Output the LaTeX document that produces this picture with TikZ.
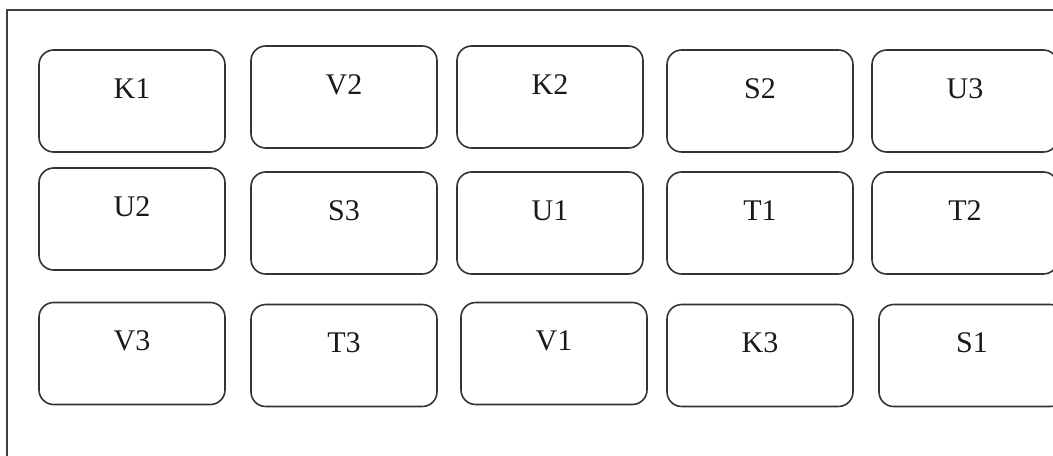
\documentclass[tikz,border=0pt]{standalone}
\usepackage{fontspec}
\setmainfont{Liberation Serif}
\tikzset{
  cell/.style={draw=black!80, line width=1.2pt, rounded corners=11pt, fill=white,
    minimum width=139.5pt, inner sep=0pt, text height=36pt, text depth=40.5pt,
    font=\fontsize{22.5}{26}\selectfont, text=black!90},
  frame/.style={draw=black!75, line width=1.4pt}
}
\begin{document}
\begin{tikzpicture}[x=0.75pt, y=-0.75pt]
  \useasboundingbox (0,0) rectangle (1053,455);
  \clip (0,0) rectangle (1053,455);
  % outer frame (open to the right and bottom)
  \coordinate (fb) at (7,470);
  \coordinate (ftl) at (7,10);
  \coordinate (fr) at (1070,10);
  \draw[frame] (fb) -- (ftl) -- (fr);
  % first row
  \node[cell] (K1) at (132,101) {K1};
  \node[cell] (V2) at (344,97)  {V2};
  \node[cell] (K2) at (550,97)  {K2};
  \node[cell] (S2) at (760,101) {S2};
  \node[cell] (U3) at (965,101) {U3};
  % second row
  \node[cell] (U2) at (132,219) {U2};
  \node[cell] (S3) at (344,223) {S3};
  \node[cell] (U1) at (550,223) {U1};
  \node[cell] (T1) at (760,223) {T1};
  \node[cell] (T2) at (965,223) {T2};
  % third row
  \node[cell] (V3) at (132,353.5) {V3};
  \node[cell] (T3) at (344,355.5) {T3};
  \node[cell] (V1) at (554,353.5) {V1};
  \node[cell] (K3) at (760,355.5) {K3};
  \node[cell] (S1) at (972,355.5) {S1};
\end{tikzpicture}
\end{document}
